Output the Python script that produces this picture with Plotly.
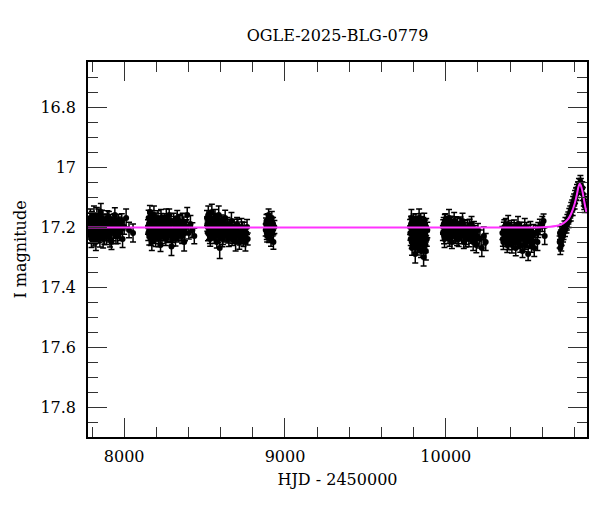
import plotly.graph_objects as go

# ---- data (HJD - 2450000, I magnitude, error) ----
s1_x = [7782, 7786, 7790, 7794, 7797, 7801, 7805, 7809, 7812, 7816, 7820, 7824, 7828, 7831, 7835,
        7839, 7843, 7847, 7851, 7855, 7860, 7864, 7869, 7874, 7879, 7884, 7890, 7896, 7902, 7908,
        7915, 7921, 7928, 7935, 7942, 7949, 7956, 7964, 7972, 7980, 7990, 8000, 8012, 8030, 8055]
s1_y = [17.19, 17.22, 17.17, 17.21, 17.24, 17.18, 17.20, 17.23, 17.16, 17.21, 17.19, 17.25, 17.18, 17.22, 17.20,
        17.17, 17.23, 17.19, 17.21, 17.15, 17.22, 17.20, 17.24, 17.18, 17.21, 17.19, 17.23, 17.17, 17.20, 17.22,
        17.18, 17.25, 17.19, 17.21, 17.16, 17.23, 17.20, 17.18, 17.22, 17.19, 17.24, 17.20, 17.17, 17.21, 17.22]
s1_e = [0.025, 0.02, 0.03, 0.022, 0.028, 0.024, 0.02, 0.026, 0.03, 0.022, 0.025, 0.028, 0.024, 0.02, 0.026,
        0.03, 0.022, 0.025, 0.02, 0.028, 0.024, 0.026, 0.03, 0.022, 0.025, 0.02, 0.028, 0.024, 0.026, 0.03,
        0.022, 0.025, 0.02, 0.028, 0.024, 0.026, 0.03, 0.022, 0.025, 0.02, 0.028, 0.024, 0.03, 0.026, 0.03]
s1b_x = [7784, 7788, 7792, 7796, 7799, 7803, 7807, 7811, 7814, 7818, 7822, 7826, 7830, 7833, 7837, 7841,
         7845, 7849, 7853, 7858, 7862, 7867, 7872, 7877, 7882, 7887, 7893, 7899, 7905, 7912, 7918, 7925,
         7932, 7939, 7946, 7953, 7960, 7968, 7976, 7985]
s1b_y = [17.21, 17.18, 17.23, 17.20, 17.17, 17.22, 17.19, 17.24, 17.21, 17.18, 17.22, 17.20, 17.16, 17.23, 17.19, 17.21,
         17.18, 17.24, 17.20, 17.22, 17.17, 17.21, 17.19, 17.23, 17.20, 17.18, 17.22, 17.21, 17.17, 17.24, 17.20, 17.19,
         17.22, 17.18, 17.21, 17.20, 17.23, 17.19, 17.21, 17.18]
s1b_e = [0.022, 0.026, 0.024, 0.028, 0.022, 0.025, 0.027, 0.023, 0.026, 0.024, 0.022, 0.028, 0.025, 0.023, 0.026, 0.024,
         0.022, 0.027, 0.025, 0.023, 0.026, 0.024, 0.022, 0.028, 0.025, 0.023, 0.026, 0.024, 0.022, 0.027, 0.025, 0.023,
         0.026, 0.024, 0.022, 0.028, 0.025, 0.023, 0.026, 0.024]

s2_x = [8148, 8152, 8156, 8160, 8164, 8168, 8172, 8176, 8180, 8185, 8190, 8195, 8200, 8205, 8210,
        8215, 8220, 8226, 8232, 8238, 8244, 8250, 8256, 8262, 8268, 8274, 8280, 8287, 8294, 8301,
        8308, 8315, 8322, 8330, 8338, 8346, 8355, 8364, 8373, 8382, 8392, 8402, 8412, 8424, 8436]
s2_y = [17.20, 17.17, 17.23, 17.15, 17.21, 17.19, 17.25, 17.18, 17.22, 17.16, 17.20, 17.24, 17.19, 17.21, 17.17,
        17.23, 17.20, 17.26, 17.18, 17.22, 17.19, 17.21, 17.21, 17.17, 17.23, 17.20, 17.16, 17.22, 17.265, 17.24,
        17.18, 17.21, 17.20, 17.17, 17.23, 17.19, 17.22, 17.18, 17.25, 17.20, 17.16, 17.22, 17.19, 17.21, 17.23]
s2_e = [0.024, 0.026, 0.03, 0.022, 0.025, 0.02, 0.028, 0.024, 0.026, 0.03, 0.022, 0.025, 0.02, 0.028, 0.024,
        0.026, 0.03, 0.022, 0.025, 0.02, 0.028, 0.024, 0.026, 0.03, 0.022, 0.025, 0.02, 0.028, 0.03, 0.024,
        0.026, 0.03, 0.022, 0.025, 0.02, 0.028, 0.024, 0.026, 0.03, 0.022, 0.025, 0.02, 0.028, 0.024, 0.026]
s2b_x = [8150, 8154, 8158, 8162, 8166, 8170, 8174, 8178, 8183, 8188, 8193, 8198, 8203, 8208, 8213, 8218,
         8223, 8229, 8235, 8241, 8247, 8253, 8259, 8265, 8271, 8277, 8284, 8291, 8298, 8305, 8312, 8319,
         8326, 8334, 8342, 8351, 8360, 8369, 8378, 8387]
s2b_y = [17.22, 17.19, 17.21, 17.18, 17.24, 17.20, 17.17, 17.22, 17.19, 17.23, 17.21, 17.18, 17.22, 17.20, 17.24, 17.19,
         17.21, 17.17, 17.23, 17.20, 17.22, 17.18, 17.24, 17.21, 17.19, 17.22, 17.20, 17.18, 17.23, 17.21, 17.19, 17.24,
         17.20, 17.22, 17.18, 17.21, 17.23, 17.19, 17.22, 17.20]
s2b_e = [0.025, 0.023, 0.026, 0.024, 0.022, 0.028, 0.025, 0.023, 0.026, 0.024, 0.022, 0.027, 0.025, 0.023, 0.026, 0.024,
         0.022, 0.028, 0.025, 0.023, 0.026, 0.024, 0.022, 0.027, 0.025, 0.023, 0.026, 0.024, 0.022, 0.028, 0.025, 0.023,
         0.026, 0.024, 0.022, 0.027, 0.025, 0.023, 0.026, 0.024]

s3_x = [8515, 8519, 8523, 8527, 8531, 8535, 8540, 8545, 8550, 8555, 8560, 8565, 8570, 8576, 8582,
        8588, 8594, 8600, 8607, 8614, 8621, 8628, 8635, 8643, 8651, 8659, 8667, 8675, 8684, 8693,
        8702, 8711, 8720, 8729, 8738, 8746, 8754, 8760, 8764, 8768]
s3_y = [17.17, 17.20, 17.16, 17.22, 17.18, 17.24, 17.19, 17.15, 17.21, 17.18, 17.23, 17.17, 17.20, 17.25, 17.19,
        17.16, 17.27, 17.21, 17.18, 17.23, 17.20, 17.17, 17.22, 17.19, 17.24, 17.21, 17.18, 17.23, 17.20, 17.25,
        17.19, 17.22, 17.24, 17.20, 17.23, 17.21, 17.25, 17.22, 17.20, 17.24]
s3_e = [0.025, 0.02, 0.03, 0.022, 0.028, 0.024, 0.02, 0.026, 0.03, 0.022, 0.025, 0.028, 0.024, 0.02, 0.026,
        0.03, 0.035, 0.025, 0.02, 0.028, 0.024, 0.026, 0.03, 0.022, 0.025, 0.02, 0.028, 0.024, 0.026, 0.03,
        0.022, 0.025, 0.02, 0.028, 0.024, 0.026, 0.03, 0.022, 0.025, 0.02]
s3b_x = [8517, 8521, 8525, 8529, 8533, 8538, 8543, 8548, 8553, 8558, 8563, 8568, 8573, 8579, 8585, 8591,
         8597, 8604, 8611, 8618, 8625, 8632, 8639, 8647, 8655, 8663, 8671, 8680, 8689, 8698, 8707, 8716,
         8725, 8734, 8742]
s3b_y = [17.19, 17.22, 17.18, 17.20, 17.23, 17.17, 17.21, 17.19, 17.22, 17.20, 17.18, 17.22, 17.21, 17.19, 17.23, 17.20,
         17.22, 17.19, 17.24, 17.21, 17.19, 17.22, 17.20, 17.23, 17.21, 17.20, 17.24, 17.22, 17.21, 17.23, 17.20, 17.25,
         17.22, 17.21, 17.24]
s3b_e = [0.024, 0.026, 0.022, 0.028, 0.025, 0.023, 0.026, 0.024, 0.022, 0.027, 0.025, 0.023, 0.026, 0.024, 0.022, 0.028,
         0.025, 0.023, 0.026, 0.024, 0.022, 0.027, 0.025, 0.023, 0.026, 0.024, 0.022, 0.028, 0.025, 0.023, 0.026, 0.024,
         0.022, 0.027, 0.025]

s4_x = [8880, 8885, 8889, 8894, 8898, 8903, 8908, 8913, 8918, 8923, 8928, 8934,
        8882, 8887, 8892, 8896, 8901, 8906, 8916, 8926]
s4_y = [17.21, 17.18, 17.23, 17.20, 17.16, 17.22, 17.19, 17.24, 17.17, 17.21, 17.25, 17.20,
        17.19, 17.22, 17.18, 17.21, 17.23, 17.20, 17.22, 17.19]
s4_e = [0.02, 0.022, 0.02, 0.024, 0.02, 0.022, 0.02, 0.024, 0.022, 0.02, 0.024, 0.022,
        0.02, 0.022, 0.024, 0.02, 0.022, 0.02, 0.024, 0.022]

s5_x = [9778, 9782, 9786, 9790, 9794, 9798, 9802, 9806, 9810, 9814, 9818, 9822, 9826, 9830,
        9834, 9838, 9842, 9846, 9850, 9854, 9858, 9862, 9866, 9870, 9874, 9878, 9882, 9885,
        9780, 9784, 9788, 9792, 9796, 9800, 9804, 9808, 9812, 9816, 9820, 9824, 9828, 9832,
        9836, 9840, 9844, 9848, 9852, 9856, 9860, 9864, 9868, 9872, 9876]
s5_y = [17.20, 17.24, 17.17, 17.27, 17.21, 17.19, 17.25, 17.22, 17.29, 17.18, 17.23, 17.20, 17.26, 17.21,
        17.17, 17.24, 17.22, 17.28, 17.19, 17.25, 17.23, 17.30, 17.18, 17.22, 17.26, 17.20, 17.24, 17.21,
        17.22, 17.19, 17.25, 17.21, 17.23, 17.18, 17.20, 17.26, 17.22, 17.24, 17.19, 17.27, 17.21, 17.23,
        17.20, 17.25, 17.18, 17.22, 17.24, 17.21, 17.19, 17.26, 17.23, 17.20, 17.28]
s5_e = [0.025, 0.022, 0.028, 0.024, 0.026, 0.022, 0.025, 0.028, 0.03, 0.024, 0.026, 0.022, 0.025, 0.028,
        0.03, 0.024, 0.026, 0.022, 0.025, 0.028, 0.024, 0.03, 0.026, 0.022, 0.025, 0.028, 0.024, 0.026,
        0.024, 0.026, 0.022, 0.028, 0.025, 0.023, 0.026, 0.024, 0.022, 0.027, 0.025, 0.023, 0.026, 0.024,
        0.022, 0.028, 0.025, 0.023, 0.026, 0.024, 0.022, 0.027, 0.025, 0.023, 0.03]

s6_x = [9982, 9987, 9992, 9997, 10002, 10008, 10014, 10020, 10026, 10032, 10038, 10045, 10052, 10059,
        10066, 10073, 10080, 10088, 10096, 10104, 10112, 10120, 10128, 10136, 10144, 10152, 10160, 10170,
        10180, 10190, 10200, 10212, 10224, 10236, 10248]
s6_y = [17.22, 17.19, 17.24, 17.18, 17.21, 17.20, 17.23, 17.17, 17.22, 17.19, 17.25, 17.20, 17.18, 17.23,
        17.21, 17.19, 17.24, 17.20, 17.22, 17.18, 17.25, 17.21, 17.23, 17.20, 17.24, 17.22, 17.19, 17.25,
        17.22, 17.26, 17.21, 17.24, 17.27, 17.23, 17.25]
s6_e = [0.025, 0.022, 0.028, 0.024, 0.026, 0.022, 0.025, 0.028, 0.024, 0.026, 0.022, 0.025, 0.028, 0.024,
        0.026, 0.022, 0.025, 0.028, 0.024, 0.026, 0.022, 0.025, 0.028, 0.024, 0.026, 0.022, 0.025, 0.028,
        0.024, 0.026, 0.022, 0.03, 0.028, 0.03, 0.028]
s6b_x = [9984, 9989, 9994, 9999, 10005, 10011, 10017, 10023, 10029, 10035, 10042, 10049, 10056, 10063, 10070,
         10077, 10084, 10092, 10100, 10108, 10116, 10124, 10132, 10140, 10148, 10156, 10165, 10175, 10185, 10195]
s6b_y = [17.20, 17.23, 17.18, 17.21, 17.19, 17.22, 17.20, 17.24, 17.19, 17.21, 17.23, 17.20, 17.22, 17.19, 17.24,
         17.21, 17.22, 17.19, 17.23, 17.21, 17.20, 17.24, 17.22, 17.21, 17.20, 17.23, 17.22, 17.21, 17.24, 17.23]
s6b_e = [0.024, 0.026, 0.022, 0.028, 0.025, 0.023, 0.026, 0.024, 0.022, 0.027, 0.025, 0.023, 0.026, 0.024, 0.022,
         0.028, 0.025, 0.023, 0.026, 0.024, 0.022, 0.027, 0.025, 0.023, 0.026, 0.024, 0.022, 0.028, 0.025, 0.023]

s7_x = [10352, 10358, 10364, 10370, 10376, 10382, 10388, 10394, 10400, 10407, 10414, 10421, 10428, 10435,
        10442, 10449, 10456, 10463, 10470, 10477, 10484, 10491, 10498, 10505, 10512, 10519, 10526, 10533,
        10540, 10550, 10560, 10570, 10585, 10600, 10615]
s7_y = [17.22, 17.25, 17.20, 17.23, 17.21, 17.26, 17.19, 17.24, 17.22, 17.20, 17.25, 17.23, 17.21, 17.27,
        17.22, 17.19, 17.24, 17.26, 17.21, 17.28, 17.23, 17.20, 17.25, 17.22, 17.29, 17.24, 17.21, 17.26,
        17.23, 17.27, 17.22, 17.25, 17.20, 17.19, 17.23]
s7_e = [0.022, 0.025, 0.024, 0.026, 0.022, 0.025, 0.028, 0.024, 0.026, 0.022, 0.025, 0.028, 0.024, 0.026,
        0.022, 0.025, 0.028, 0.024, 0.026, 0.022, 0.025, 0.028, 0.024, 0.026, 0.022, 0.025, 0.028, 0.024,
        0.026, 0.028, 0.025, 0.028, 0.026, 0.025, 0.028]
s7b_x = [10355, 10361, 10367, 10373, 10379, 10385, 10391, 10397, 10404, 10411, 10418, 10425, 10432, 10439, 10446,
         10453, 10460, 10467, 10474, 10481, 10488, 10495, 10502, 10509, 10516, 10523, 10530, 10545, 10575, 10608]
s7b_y = [17.24, 17.21, 17.23, 17.20, 17.24, 17.22, 17.25, 17.21, 17.23, 17.26, 17.22, 17.20, 17.24, 17.22, 17.25,
         17.23, 17.21, 17.22, 17.24, 17.22, 17.26, 17.23, 17.21, 17.24, 17.22, 17.23, 17.25, 17.22, 17.21, 17.18]
s7b_e = [0.024, 0.026, 0.022, 0.028, 0.025, 0.023, 0.026, 0.024, 0.022, 0.027, 0.025, 0.023, 0.026, 0.024, 0.022,
         0.028, 0.025, 0.023, 0.026, 0.024, 0.022, 0.027, 0.025, 0.023, 0.026, 0.024, 0.022, 0.028, 0.025, 0.023]

s8_x = [10708, 10712, 10716, 10720, 10726, 10732, 10738, 10744, 10750, 10756, 10762, 10768, 10774, 10780,
        10786, 10792, 10798, 10804, 10810, 10816, 10822, 10828, 10834, 10840, 10846, 10852, 10858, 10864,
        10710, 10718, 10723, 10729, 10741, 10753, 10765, 10777, 10789, 10801, 10813, 10825, 10837, 10849, 10861]
s8_y = [17.25, 17.27, 17.23, 17.24, 17.21, 17.22, 17.20, 17.19, 17.20, 17.18, 17.17, 17.16, 17.15, 17.14,
        17.13, 17.12, 17.11, 17.10, 17.09, 17.08, 17.07, 17.06, 17.06, 17.06, 17.07, 17.09, 17.11, 17.13,
        17.22, 17.26, 17.22, 17.23, 17.21, 17.19, 17.18, 17.16, 17.14, 17.12, 17.09, 17.07, 17.05, 17.07, 17.12]
s8_e = [0.02, 0.022, 0.02, 0.022, 0.02, 0.022, 0.02, 0.022, 0.02, 0.022, 0.02, 0.022, 0.02, 0.022,
        0.02, 0.022, 0.02, 0.022, 0.02, 0.022, 0.02, 0.022, 0.02, 0.022, 0.02, 0.022, 0.02, 0.022,
        0.022, 0.02, 0.022, 0.02, 0.022, 0.02, 0.022, 0.02, 0.022, 0.02, 0.022, 0.02, 0.022, 0.02, 0.022]

# model curve
model_x = [7775, 10500, 10600, 10650, 10700, 10730, 10760, 10780, 10800, 10815, 10825, 10832,
           10840, 10850, 10860, 10870, 10878]
model_y = [17.202, 17.202, 17.201, 17.199, 17.195, 17.188, 17.174, 17.155, 17.125, 17.092, 17.066, 17.056,
           17.062, 17.082, 17.112, 17.140, 17.155]

title_text = "OGLE-2025-BLG-0779"
x_title = "HJD - 2450000"
y_title = "I magnitude"
x_ticks = [8000, 9000, 10000]
y_ticks = [16.8, 17.0, 17.2, 17.4, 17.6, 17.8]
y_ticklabels = ["16.8", "17", "17.2", "17.4", "17.6", "17.8"]

xs = s1_x + s1b_x + s2_x + s2b_x + s3_x + s3b_x + s4_x + s5_x + s6_x + s6b_x + s7_x + s7b_x + s8_x
ys = s1_y + s1b_y + s2_y + s2b_y + s3_y + s3b_y + s4_y + s5_y + s6_y + s6b_y + s7_y + s7b_y + s8_y
es = s1_e + s1b_e + s2_e + s2b_e + s3_e + s3b_e + s4_e + s5_e + s6_e + s6b_e + s7_e + s7b_e + s8_e

FONT = "DejaVu Serif"

# plot box in page pixels (the page body margin is removed below)
PL, PR, PT, PB = 88, 587, 62, 437
W, H = 600, 512

fig = go.Figure()
fig.add_trace(go.Scatter(
    x=xs, y=ys, mode="markers",
    marker=dict(color="black", size=6),
    error_y=dict(type="data", array=es, visible=True, color="black", thickness=1.5, width=3),
    showlegend=False, hoverinfo="skip"))
fig.add_trace(go.Scatter(
    x=model_x, y=model_y, mode="lines", line=dict(color="#ff33ff", width=2, shape="spline", smoothing=0.6),
    showlegend=False, hoverinfo="skip"))

axis_common = dict(
    showgrid=False, zeroline=False, showline=True, linecolor="black", linewidth=1.5,
    mirror="ticks", ticks="inside", tickcolor="#333", tickwidth=1, ticklen=19,
    tickfont=dict(family=FONT, size=16, color="black"),
)
fig.update_xaxes(
    range=[7775, 10878], tickvals=x_ticks, ticktext=[str(v) for v in x_ticks],
    minor=dict(dtick=200, tick0=0, ticks="inside", ticklen=10, tickcolor="#333", tickwidth=1),
    ticklabelstandoff=4,
    title=dict(text=x_title, font=dict(family=FONT, size=16, color="black"), standoff=9),
    **axis_common)
fig.update_yaxes(
    range=[17.9, 16.65], tickvals=y_ticks, ticktext=y_ticklabels,
    minor=dict(dtick=0.05, tick0=0, ticks="inside", ticklen=10, tickcolor="#333", tickwidth=1),
    ticklabelstandoff=7,
    title=dict(text=y_title, font=dict(family=FONT, size=16, color="black"), standoff=10),
    **axis_common)

fig.update_layout(
    width=W, height=H,
    margin=dict(l=PL, r=W - PR, t=PT, b=H - PB),
    paper_bgcolor="white", plot_bgcolor="white",
    title=dict(text=title_text, x=(PL + PR) / 2 / W, xanchor="center", y=1 - 35 / H, yanchor="middle",
               font=dict(family=FONT, size=16, color="black")),
)

fig.write_html("out.html", config={"displayModeBar": False},
               post_script="document.body.style.margin='0';")
